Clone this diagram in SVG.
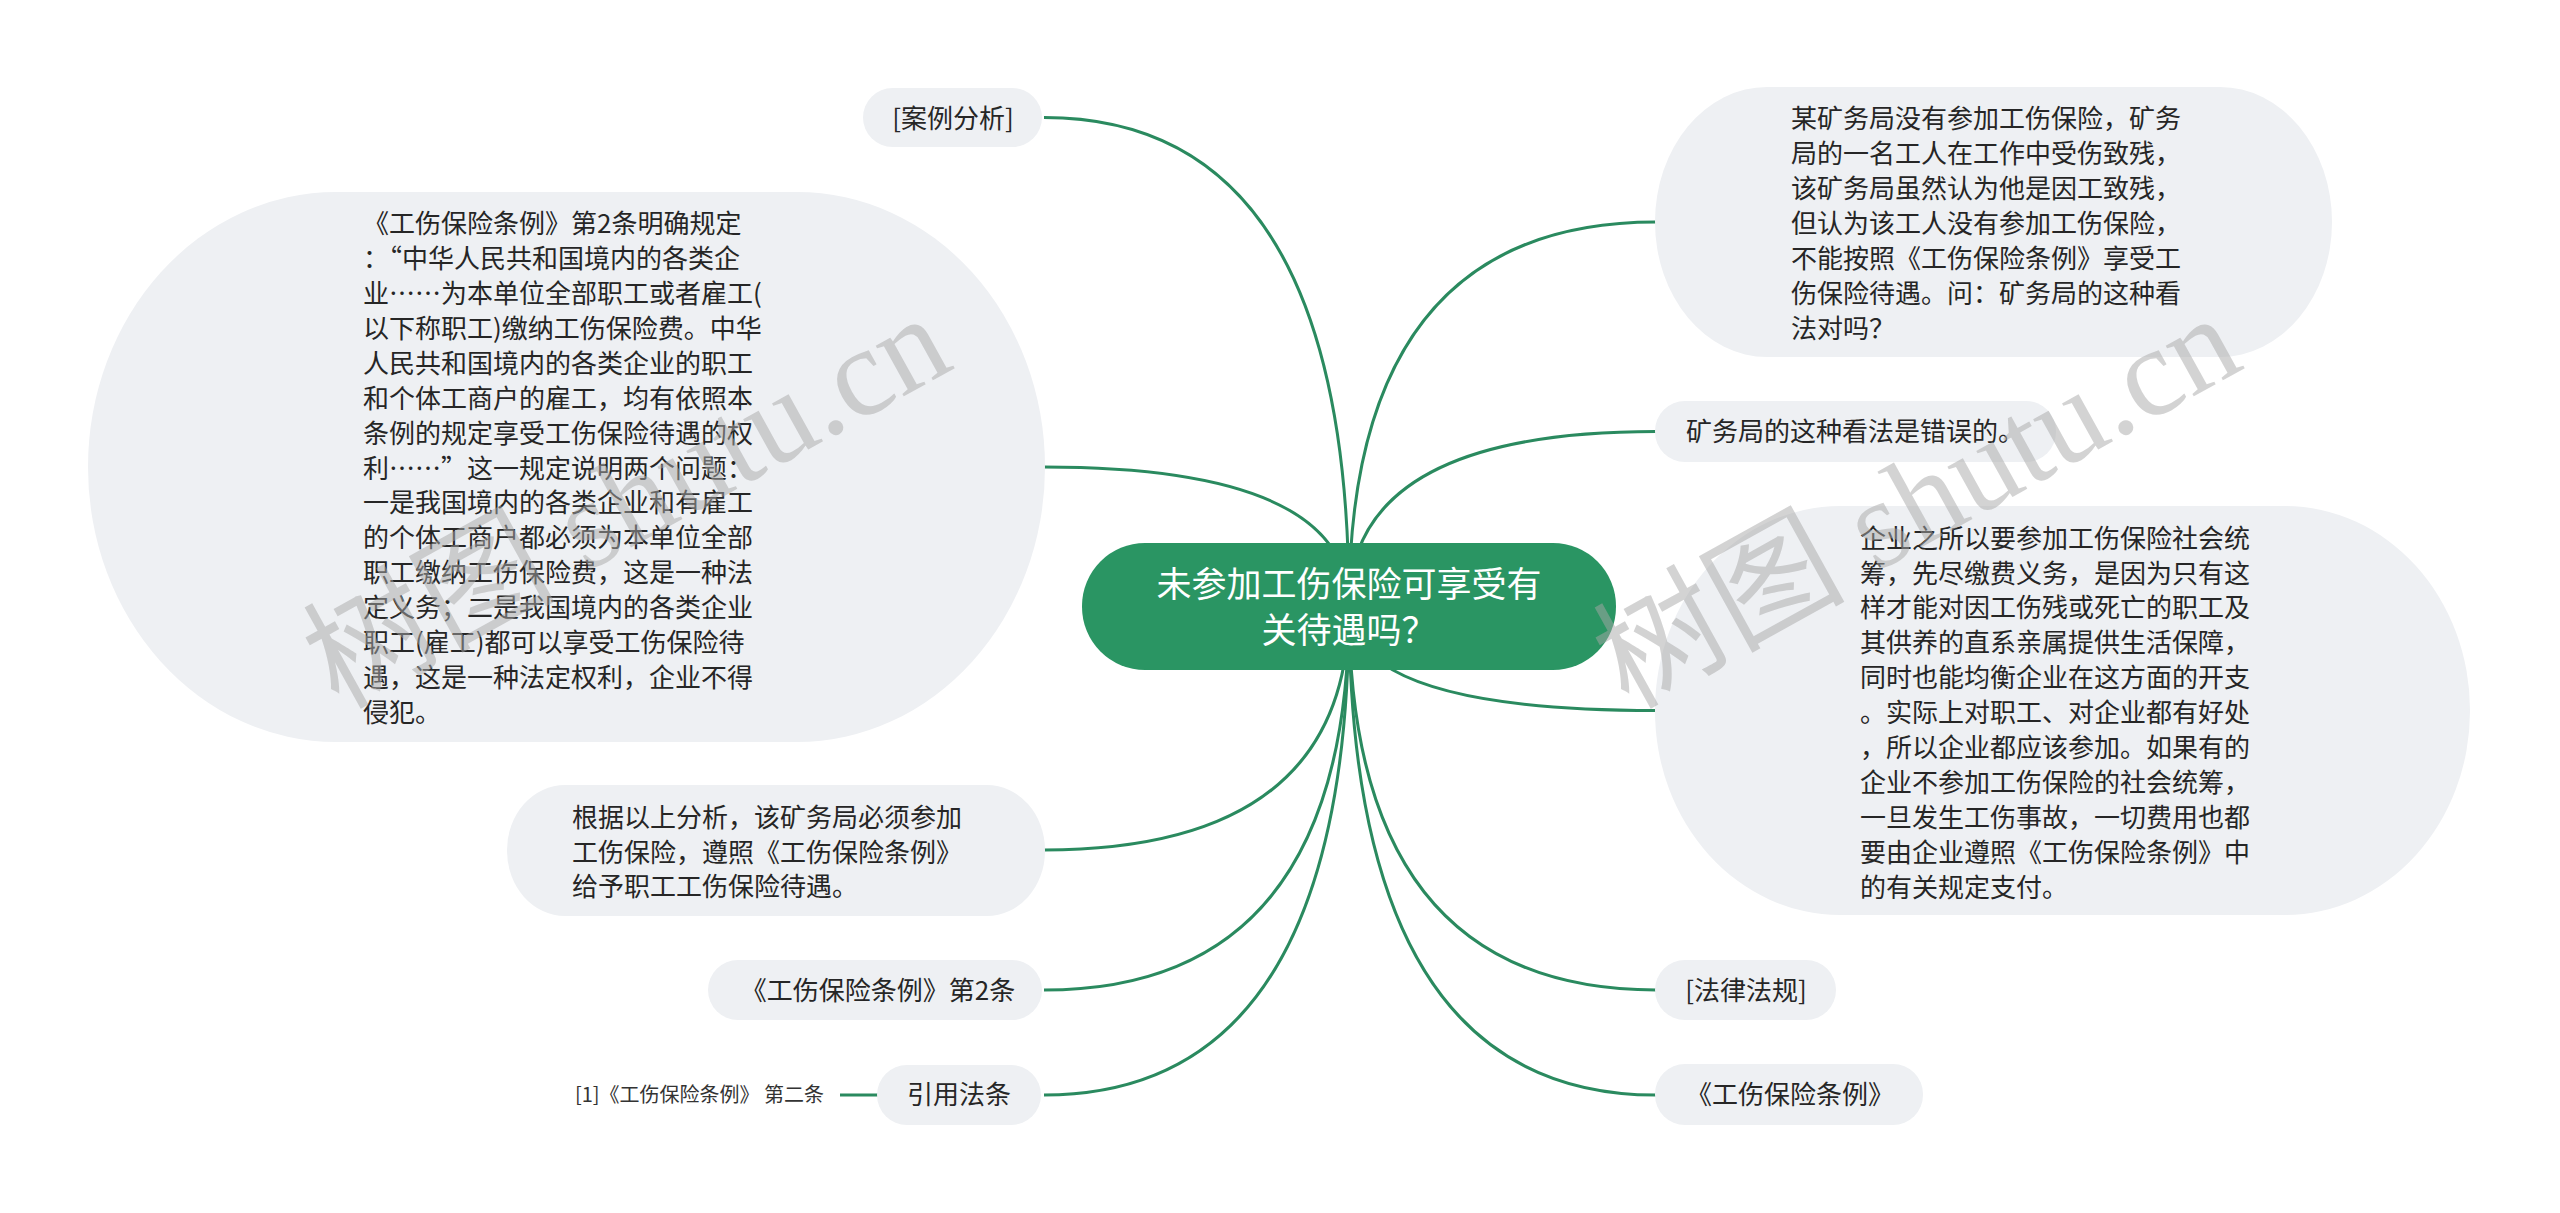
<svg xmlns="http://www.w3.org/2000/svg" width="2560" height="1213" viewBox="0 0 2560 1213">
<style>
.bg{fill:#ffffff}
.node{fill:#eef0f3}
.root{fill:#2a9563}
.t{font-family:"Noto Sans CJK SC","Liberation Sans",sans-serif;font-size:26px;fill:#262626}
.rt{font-family:"Noto Sans CJK SC","Liberation Sans",sans-serif;font-size:35px;fill:#ffffff}
.sm{font-family:"Noto Sans CJK SC","Liberation Sans",sans-serif;font-size:20px;fill:#333333}
.c{text-anchor:middle}
.edge{fill:none;stroke:#2a8a5f;stroke-width:3}
.wm{font-family:"Liberation Serif","Noto Sans CJK SC",serif;font-size:126px;fill:#a8a8a8;fill-opacity:0.5}
</style>
<rect class="bg" x="0" y="0" width="2560" height="1213"/>
<g id="connectors">
<path class="edge" d="M1349 606 Q1349 117.5 1044 117.5"/>
<path class="edge" d="M1349 606 Q1349 467 1044 467"/>
<path class="edge" d="M1349 606 Q1349 850 1044 850"/>
<path class="edge" d="M1349 606 Q1349 990 1044 990"/>
<path class="edge" d="M1349 606 Q1349 1095 1044 1095"/>
<path class="edge" d="M1349 606 Q1349 222 1656 222"/>
<path class="edge" d="M1349 606 Q1349 431.5 1656 431.5"/>
<path class="edge" d="M1349 606 Q1349 710.5 1656 710.5"/>
<path class="edge" d="M1349 606 Q1349 990 1656 990"/>
<path class="edge" d="M1349 606 Q1349 1095 1656 1095"/>
<path class="edge" d="M840 1095 L878 1095"/>
</g>
<g id="root">
<rect class="root" x="1082" y="543" width="534" height="127" rx="63" ry="63"/>
<text class="rt c" x="1349" y="596.6">未参加工伤保险可享受有</text>
<text class="rt c" x="1349" y="643.3">关待遇吗？</text>
</g>
<g id="n-anli">
<rect class="node" x="863" y="88" width="179" height="59" rx="29.5" ry="29.5"/>
<text class="t c" x="953" y="128">[案例分析]</text>
</g>
<g id="n-tiaoli2">
<rect class="node" x="88" y="192" width="957" height="550" rx="248" ry="275"/>
<text class="t" x="363" y="233">《工伤保险条例》第2条明确规定</text>
<text class="t" x="363" y="267.9">：“中华人民共和国境内的各类企</text>
<text class="t" x="363" y="302.9">业……为本单位全部职工或者雇工(</text>
<text class="t" x="363" y="337.8">以下称职工)缴纳工伤保险费。中华</text>
<text class="t" x="363" y="372.7">人民共和国境内的各类企业的职工</text>
<text class="t" x="363" y="407.7">和个体工商户的雇工，均有依照本</text>
<text class="t" x="363" y="442.6">条例的规定享受工伤保险待遇的权</text>
<text class="t" x="363" y="477.5">利……”这一规定说明两个问题：</text>
<text class="t" x="363" y="512.4">一是我国境内的各类企业和有雇工</text>
<text class="t" x="363" y="547.4">的个体工商户都必须为本单位全部</text>
<text class="t" x="363" y="582.3">职工缴纳工伤保险费，这是一种法</text>
<text class="t" x="363" y="617.2">定义务；二是我国境内的各类企业</text>
<text class="t" x="363" y="652.2">职工(雇工)都可以享受工伤保险待</text>
<text class="t" x="363" y="687.1">遇，这是一种法定权利，企业不得</text>
<text class="t" x="363" y="722">侵犯。</text>
</g>
<g id="n-genju">
<rect class="node" x="507" y="785" width="538" height="131" rx="58" ry="65"/>
<text class="t" x="572" y="826.6">根据以上分析，该矿务局必须参加</text>
<text class="t" x="572" y="861.5">工伤保险，遵照《工伤保险条例》</text>
<text class="t" x="572" y="896.4">给予职工工伤保险待遇。</text>
</g>
<g id="n-di2tiao">
<rect class="node" x="708" y="960" width="334" height="60" rx="30" ry="30"/>
<text class="t c" x="878" y="1000">《工伤保险条例》第2条</text>
</g>
<g id="n-yinyong">
<rect class="node" x="877" y="1065" width="164" height="60" rx="30" ry="30"/>
<text class="t c" x="959" y="1104">引用法条</text>
</g>
<g id="n-ref">
<text class="sm" x="575" y="1101.6">[1]《工伤保险条例》 第二条</text>
</g>
<g id="n-wenti">
<rect class="node" x="1655" y="87" width="677" height="270" rx="112" ry="135"/>
<text class="t" x="1791" y="128">某矿务局没有参加工伤保险，矿务</text>
<text class="t" x="1791" y="163">局的一名工人在工作中受伤致残，</text>
<text class="t" x="1791" y="198">该矿务局虽然认为他是因工致残，</text>
<text class="t" x="1791" y="233">但认为该工人没有参加工伤保险，</text>
<text class="t" x="1791" y="268">不能按照《工伤保险条例》享受工</text>
<text class="t" x="1791" y="303">伤保险待遇。问：矿务局的这种看</text>
<text class="t" x="1791" y="338">法对吗？</text>
</g>
<g id="n-cuowu">
<rect class="node" x="1655" y="401" width="401" height="61" rx="30" ry="30"/>
<text class="t" x="1686" y="441">矿务局的这种看法是错误的。</text>
</g>
<g id="n-qiye">
<rect class="node" x="1655" y="506" width="815" height="409" rx="185" ry="204"/>
<text class="t" x="1860" y="547.6">企业之所以要参加工伤保险社会统</text>
<text class="t" x="1860" y="582.5">筹，先尽缴费义务，是因为只有这</text>
<text class="t" x="1860" y="617.4">样才能对因工伤残或死亡的职工及</text>
<text class="t" x="1860" y="652.3">其供养的直系亲属提供生活保障，</text>
<text class="t" x="1860" y="687.2">同时也能均衡企业在这方面的开支</text>
<text class="t" x="1860" y="722.1">。实际上对职工、对企业都有好处</text>
<text class="t" x="1860" y="757">，所以企业都应该参加。如果有的</text>
<text class="t" x="1860" y="791.9">企业不参加工伤保险的社会统筹，</text>
<text class="t" x="1860" y="826.8">一旦发生工伤事故，一切费用也都</text>
<text class="t" x="1860" y="861.7">要由企业遵照《工伤保险条例》中</text>
<text class="t" x="1860" y="896.6">的有关规定支付。</text>
</g>
<g id="n-falv">
<rect class="node" x="1655" y="960" width="181" height="60" rx="30" ry="30"/>
<text class="t c" x="1746" y="1000">[法律法规]</text>
</g>
<g id="n-tiaoli">
<rect class="node" x="1655" y="1064" width="268" height="61" rx="30" ry="30"/>
<text class="t c" x="1790" y="1104">《工伤保险条例》</text>
</g>
<g id="watermark">
<text class="wm" transform="translate(338 710) rotate(-29)">树图 shutu.cn</text>
<text class="wm" transform="translate(1628 710) rotate(-29)">树图 shutu.cn</text>
</g>
</svg>
